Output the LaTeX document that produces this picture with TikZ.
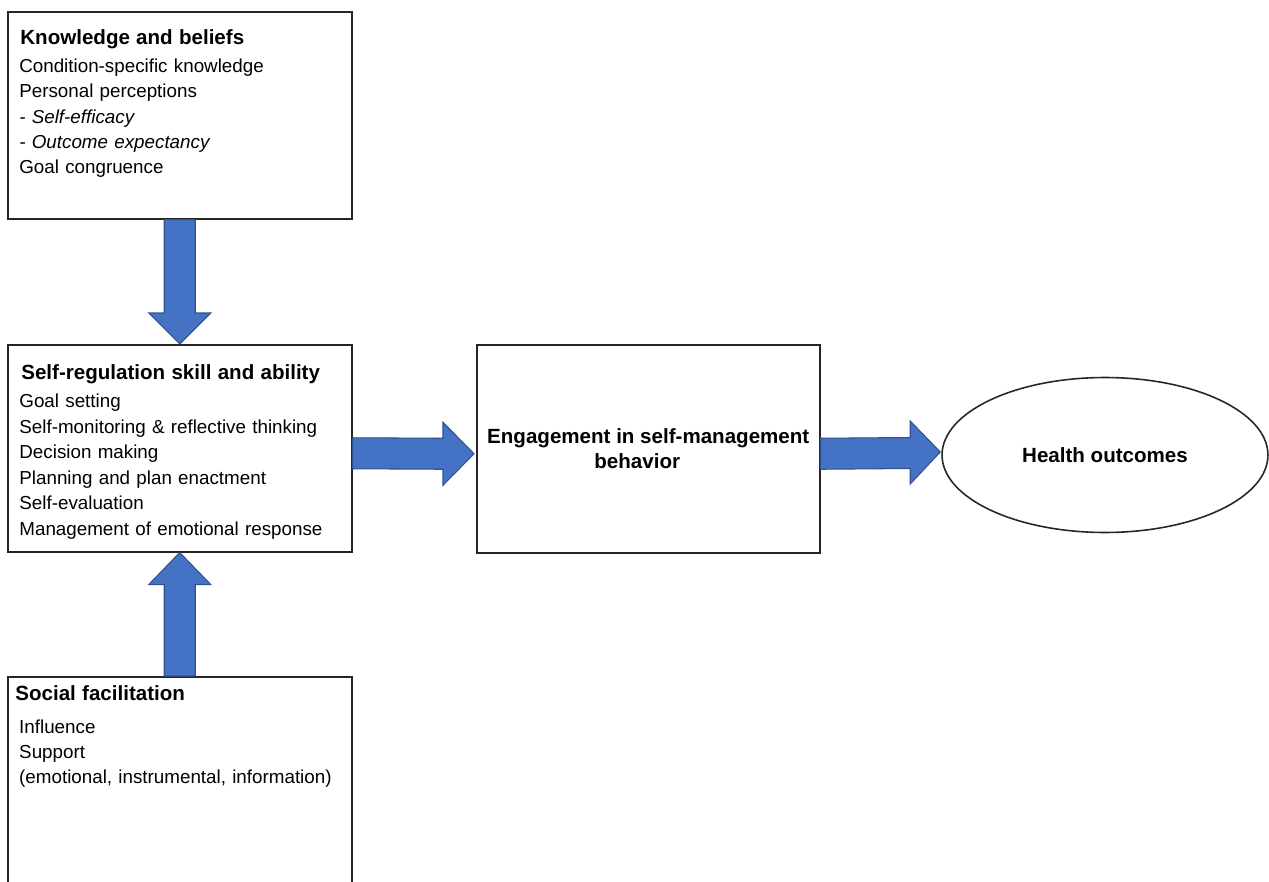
\documentclass[tikz,border=0pt]{standalone}
\usepackage{fontspec}
\setmainfont{Liberation Sans}
\usetikzlibrary{shapes,positioning}
\usetikzlibrary{calc}

\definecolor{arrowfill}{HTML}{4472C4}
\definecolor{arrowline}{HTML}{2F528F}
\definecolor{boxline}{HTML}{262626}

\newcommand{\boxtitle}[1]{{\fontsize{11.7}{14.5}\selectfont\bfseries #1}}

\begin{document}
\begin{tikzpicture}[x=0.02cm,y=-0.02cm,
  box/.style={draw=boxline,line width=0.9pt,anchor=north west,inner sep=0pt,
    minimum width=6.88cm,minimum height=4.14cm},
  boxtext/.style={anchor=base west,inner sep=0pt,text width=6.6cm,align=left,
    font=\fontsize{10.7}{14.5}\selectfont},
  bigtext/.style={font=\fontsize{11.7}{14.3}\selectfont\bfseries,align=center},
  fatarrow/.style={fill=arrowfill,draw=arrowline,line width=0.6pt,line join=miter}]

\useasboundingbox (0,0) rectangle (1269,882);
\clip (0,0) rectangle (1269,882);

% boxes
\node[box] (kb) at (7,11) {};
\node[box] (sr) at (7,344) {};
\node[box,minimum height=4.8cm] (sf) at (7,676) {};
\node[box,minimum width=6.86cm,minimum height=4.16cm,bigtext] (eng) at (476,344)
  {Engagement in self-management\\behavior\hspace*{12.5pt}};
\node[draw=boxline,line width=0.9pt,ellipse,inner sep=0pt,minimum width=6.52cm,
  minimum height=3.1cm,bigtext] (ho) at (1105,455) {Health outcomes};

% box texts
\node[boxtext] (kbtext) at ($(kb.north west)+(13,34)$)
  {\boxtitle{Knowledge and beliefs}\\[0.9pt]
   \hspace*{-0.6pt}Condition-specific knowledge\\
   \hspace*{-0.6pt}Personal perceptions\\
   \hspace*{-0.6pt}\textit{- Self-efficacy}\\
   \hspace*{-0.6pt}\textit{- Outcome expectancy}\\
   \hspace*{-0.6pt}Goal congruence};
\node[boxtext] (srtext) at ($(sr.north west)+(14,35)$)
  {\boxtitle{Self-regulation skill and ability}\\[2pt]
   \hspace*{-1.1pt}Goal setting\\
   \hspace*{-1.1pt}Self-monitoring \& reflective thinking\\
   \hspace*{-1.1pt}Decision making\\
   \hspace*{-1.1pt}Planning and plan enactment\\
   \hspace*{-1.1pt}Self-evaluation\\
   \hspace*{-1.1pt}Management of emotional response};
\node[boxtext] (sftext) at ($(sf.north west)+(8,24)$)
  {\boxtitle{Social facilitation}\\[4.3pt]
   \hspace*{2.2pt}Influence\\
   \hspace*{2.2pt}Support\\
   \hspace*{2.2pt}(emotional, instrumental, information)};

% block arrows
\filldraw[fatarrow] ($(kb.south)+(-15.5,0)$) -- ($(sr.north)+(-15.5,-31)$)
  -- ($(sr.north)+(-31,-31)$) -- (sr.north) -- ($(sr.north)+(31,-31)$)
  -- ($(sr.north)+(15.5,-31)$) -- ($(kb.south)+(15.5,0)$) -- cycle;
\filldraw[fatarrow] ($(sf.north)+(-15.5,0)$) -- ($(sr.south)+(-15.5,32)$)
  -- ($(sr.south)+(-31,32)$) -- (sr.south) -- ($(sr.south)+(31,32)$)
  -- ($(sr.south)+(15.5,32)$) -- ($(sf.north)+(15.5,0)$) -- cycle;
\filldraw[fatarrow] ($(sr.east)+(0,-10.5)$) -- ($(eng.west)+(-33,-10.5)$)
  -- ($(eng.west)+(-33,-26.5)$) -- ($(eng.west)+(-2,5)$) -- ($(eng.west)+(-33,36.5)$)
  -- ($(eng.west)+(-33,20.5)$) -- ($(sr.east)+(0,20.5)$) -- cycle;
\filldraw[fatarrow] ($(eng.east)+(0,-10.5)$) -- ($(ho.west)+(-31,-17.5)$)
  -- ($(ho.west)+(-31,-34)$) -- ($(ho.west)+(-1,-3)$) -- ($(ho.west)+(-31,29)$)
  -- ($(ho.west)+(-31,13.5)$) -- ($(eng.east)+(0,20.5)$) -- cycle;

\end{tikzpicture}
\end{document}
